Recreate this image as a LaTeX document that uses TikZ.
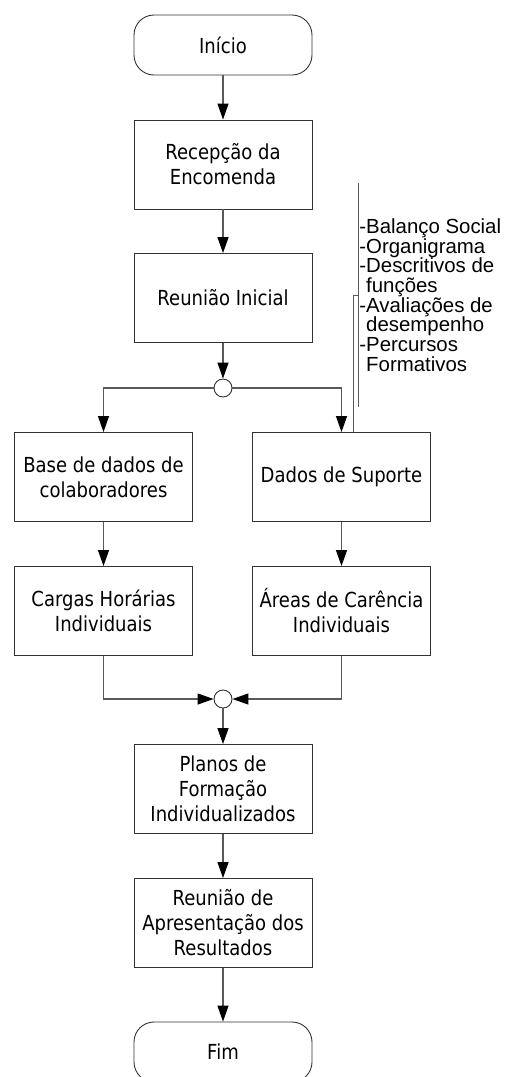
\documentclass[tikz,border=0pt]{standalone}
\usepackage{fontspec}
\setmainfont{DejaVu Sans}[FakeStretch=0.87]
\newfontfamily\notefont{Liberation Sans}
\usetikzlibrary{arrows.meta}

\begin{document}
\begin{tikzpicture}[x=1pt,y=-1pt,
		every path/.style={>={Triangle[length=16pt,width=11pt,black]}},
		box/.style={draw=black!80,line width=0.9pt,minimum width=178pt,minimum height=89pt,inner sep=0pt,align=center,font=\fontsize{20.7}{25}\selectfont},
		term/.style={box,minimum height=60pt,rounded corners=20pt},
		junction/.style={circle,draw=black!80,line width=0.9pt,fill=white,minimum size=18pt,inner sep=0pt},
		note/.style={anchor=north west,align=left,inner sep=0pt,font=\notefont\fontsize{20.4}{19.7}\selectfont},
		flow/.style={draw=black!65,line width=1.2pt}]
			\useasboundingbox (0,0) rectangle (505,1077);

			\node[term] (inicio) at (223,45) {Início};
			\node[box] (recepcao) at (223,164.5) {Recepção da\\Encomenda};
			\node[box] (reuniao) at (223,298) {Reunião Inicial};
			\node[junction] (split) at (223,388) {};
			\node[box] (base) at (103.5,477) {Base de dados de\\colaboradores};
			\node[box] (suporte) at (341.5,477) {Dados de Suporte};
			\node[box] (cargas) at (103.5,611) {Cargas Horárias\\Individuais};
			\node[box] (carencia) at (341.5,611) {Áreas de Carência\\Individuais};
			\node[junction] (merge) at (223,699) {};
			\node[box] (planos) at (223,789) {Planos de\\Formação\\Individualizados};
			\node[box] (apresent) at (223,923) {Reunião de\\Apresentação dos\\Resultados};
			\node[term] (fim) at (223,1052) {Fim};

			\coordinate (anntop) at (358,183);
			\coordinate (annbot) at (358,407);
			\coordinate (ann) at (358,295);
			\node[note] (dados) at (366,218.4) {\llap{-}Balanço Social\\\llap{-}Organigrama\\\llap{-}Descritivos de\\funções\\\llap{-}Avaliações de\\desempenho\\\llap{-}Percursos\\Formativos};

			\draw[flow,->] (inicio) -- (recepcao);
			\draw[flow,->] (recepcao) -- (reuniao);
			\draw[flow,->] (reuniao) -- (split);

			\draw[flow,->] (split) -| (base);
			\draw[flow,->] (split) -| (suporte);

			\draw[flow,->] (base) -- (cargas);
			\draw[flow,->] (suporte) -- (carencia);

			\draw[flow,->] (cargas) |- (merge);
			\draw[flow,->] (carencia) |- (merge);

			\draw[flow,->] (merge) -- (planos);
			\draw[flow,->] (planos) -- (apresent);
			\draw[flow,->] (apresent) -- (fim);

			\draw[flow,line width=1pt] (anntop) -- (annbot);
			\draw[flow,line width=1pt] ([xshift=12pt]suporte.north) |- (ann);
		\end{tikzpicture}
\end{document}
